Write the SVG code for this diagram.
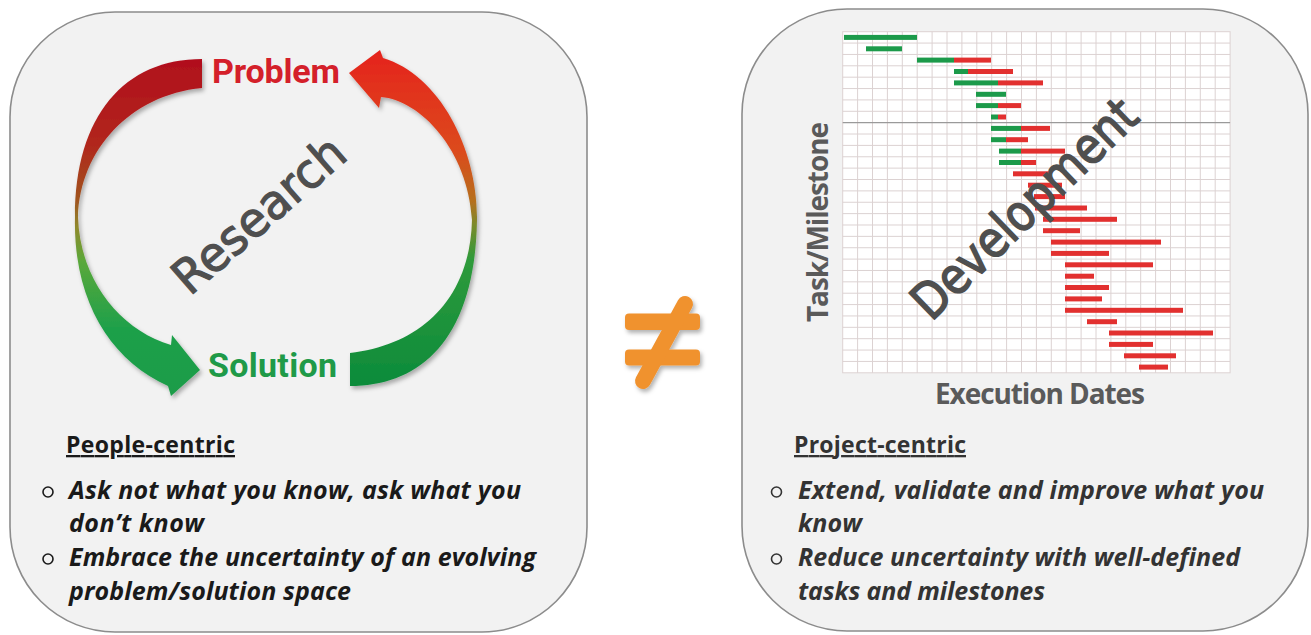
<svg xmlns="http://www.w3.org/2000/svg" width="1311" height="635" viewBox="0 0 1311 635">
<style>
.panel{fill:#f2f2f2;stroke:#8c8c8c;stroke-width:1.6}
.lbl{font-family:Roboto,"Liberation Sans",sans-serif;font-weight:700}
.big{font-family:"DejaVu Sans",sans-serif;font-weight:400;fill:#4f4f4f;stroke:#4f4f4f;stroke-width:1.2}
.axis{font-family:"Open Sans","Liberation Sans",sans-serif;font-weight:700;fill:#5a5a5a;font-size:28px}
.head{font-family:"Open Sans","Liberation Sans",sans-serif;font-weight:700;font-size:23px;text-decoration:underline}
.item{font-family:"Open Sans","Liberation Sans",sans-serif;font-weight:700;font-style:italic;font-size:25px}
.bul{fill:none;stroke-width:1.6}
.g{fill:#1c9a4a}
.r{fill:#e2302f}
.grid{fill:none;stroke:#dcd2d2;stroke-width:1}
</style>
<defs>
<linearGradient id="gl" gradientUnits="userSpaceOnUse" x1="0" y1="59" x2="0" y2="396">
<stop offset="0" stop-color="#b10f1f"/>
<stop offset="0.25" stop-color="#b1261b"/>
<stop offset="0.42" stop-color="#a0541f"/>
<stop offset="0.5" stop-color="#8f8a2c"/>
<stop offset="0.6" stop-color="#5aa83a"/>
<stop offset="0.8" stop-color="#1ea04a"/>
<stop offset="1" stop-color="#1a9c48"/>
</linearGradient>
<linearGradient id="gr" gradientUnits="userSpaceOnUse" x1="0" y1="50" x2="0" y2="387">
<stop offset="0" stop-color="#e5231d"/>
<stop offset="0.3" stop-color="#dc4a1f"/>
<stop offset="0.45" stop-color="#b5701f"/>
<stop offset="0.52" stop-color="#7a8a2a"/>
<stop offset="0.62" stop-color="#2f9a3a"/>
<stop offset="1" stop-color="#0b8b3b"/>
</linearGradient>
<filter id="sh" x="-20%" y="-20%" width="140%" height="140%">
<feDropShadow dx="2" dy="3" stdDeviation="2" flood-color="#000" flood-opacity="0.3"/>
</filter>
</defs>

<g id="research-panel">
<rect class="panel" x="10" y="12" width="577" height="620" rx="105" ry="105"/>
</g>

<g id="connectors">
<path id="arrow-problem-solution" filter="url(#sh)" fill="url(#gl)" d="M202,59 C125,59 75,115 75,217 C73,300 110,360 168,386 L171,396 L200,370 L172,335 L171,345 C120,330 80,280 78,217 C80,150 130,95 202,88 Z"/>
<path id="arrow-solution-problem" filter="url(#sh)" fill="url(#gr)" d="M350,386 C420,386 475,340 477,220 C478,150 440,75 383,58 L380,50 L349,73 L379,108 L381,97 C420,100 468,150 472,220 C470,300 420,345 350,353 Z"/>
</g>

<g id="problem">
<text class="lbl" x="212" y="83" font-size="34" fill="#d4202a" textLength="128">Problem</text>
</g>
<g id="solution">
<text class="lbl" x="208" y="377" font-size="34" fill="#1f9a48" textLength="129">Solution</text>
</g>
<g id="research">
<text class="big" transform="translate(258.5,214.5) rotate(-41)" x="0" y="17" font-size="48" text-anchor="middle" textLength="212" lengthAdjust="spacingAndGlyphs">Research</text>
</g>

<g id="people-centric">
<text class="head" x="66" y="453" fill="#1a1a1a" textLength="169">People-centric</text>
<circle class="bul" cx="48" cy="492" r="5" stroke="#1a1a1a"/>
<text class="item" x="69" y="499" fill="#1a1a1a" textLength="452">Ask not what you know, ask what you</text>
<text class="item" x="69" y="532" fill="#1a1a1a" textLength="135">don’t know</text>
<circle class="bul" cx="48" cy="559" r="5" stroke="#1a1a1a"/>
<text class="item" x="69" y="566" fill="#1a1a1a" textLength="467">Embrace the uncertainty of an evolving</text>
<text class="item" x="69" y="600" fill="#1a1a1a" textLength="282">problem/solution space</text>
</g>

<g id="not-equal" filter="url(#sh)" fill="#f0922f">
<rect x="625" y="313.5" width="75" height="16.5" rx="4"/>
<rect x="625" y="349.5" width="75" height="16" rx="4"/>
<line x1="685" y1="304" x2="643" y2="381" stroke="#f0922f" stroke-width="16" stroke-linecap="round"/>
</g>

<g id="development-panel">
<rect class="panel" x="742" y="9" width="566" height="622" rx="105" ry="105"/>
</g>

<g id="gantt">
<rect x="842.7" y="31.7" width="387.4" height="341.1" fill="#ffffff"/>
<path class="grid" d="M857.6 31.7V372.8M872.5 31.7V372.8M887.4 31.7V372.8M902.3 31.7V372.8M917.2 31.7V372.8M932.1 31.7V372.8M947 31.7V372.8M961.9 31.7V372.8M976.8 31.7V372.8M991.7 31.7V372.8M1006.6 31.7V372.8M1021.5 31.7V372.8M1036.4 31.7V372.8M1051.3 31.7V372.8M1066.2 31.7V372.8M1081.1 31.7V372.8M1096 31.7V372.8M1110.9 31.7V372.8M1125.8 31.7V372.8M1140.7 31.7V372.8M1155.6 31.7V372.8M1170.5 31.7V372.8M1185.4 31.7V372.8M1200.3 31.7V372.8M1215.2 31.7V372.8
M842.7 43.07H1230.1M842.7 54.44H1230.1M842.7 65.81H1230.1M842.7 77.18H1230.1M842.7 88.55H1230.1M842.7 99.92H1230.1M842.7 111.29H1230.1M842.7 134.03H1230.1M842.7 145.4H1230.1M842.7 156.77H1230.1M842.7 168.14H1230.1M842.7 179.51H1230.1M842.7 190.88H1230.1M842.7 202.25H1230.1M842.7 213.62H1230.1M842.7 224.99H1230.1M842.7 236.36H1230.1M842.7 247.73H1230.1M842.7 259.1H1230.1M842.7 270.47H1230.1M842.7 281.84H1230.1M842.7 293.21H1230.1M842.7 304.58H1230.1M842.7 315.95H1230.1M842.7 327.32H1230.1M842.7 338.69H1230.1M842.7 350.06H1230.1M842.7 361.43H1230.1"/>
<rect class="grid" x="842.7" y="31.7" width="387.4" height="341.1" stroke="#cfc6c6"/>
<line x1="842.7" y1="122.66" x2="1230.1" y2="122.66" stroke="#9a9a9a" stroke-width="1.2"/>
<rect class="g" x="844" y="34.9" width="73" height="5"/>
<rect class="g" x="866" y="46.3" width="36" height="5"/>
<rect class="g" x="917" y="57.6" width="37" height="5"/><rect class="r" x="954" y="57.6" width="37" height="5"/>
<rect class="g" x="954" y="69" width="14" height="5"/><rect class="r" x="968" y="69" width="45" height="5"/>
<rect class="g" x="954" y="80.4" width="44" height="5"/><rect class="r" x="998" y="80.4" width="45" height="5"/>
<rect class="g" x="976" y="91.8" width="30" height="5"/>
<rect class="g" x="976" y="103.1" width="22" height="5"/><rect class="r" x="998" y="103.1" width="23" height="5"/>
<rect class="g" x="991" y="114.5" width="7" height="5"/><rect class="r" x="998" y="114.5" width="8" height="5"/>
<rect class="g" x="991" y="125.9" width="30" height="5"/><rect class="r" x="1021" y="125.9" width="29" height="5"/>
<rect class="g" x="991" y="137.2" width="15" height="5"/><rect class="r" x="1006" y="137.2" width="22" height="5"/>
<rect class="g" x="999" y="148.6" width="22" height="5"/><rect class="r" x="1021" y="148.6" width="44" height="5"/>
<rect class="g" x="999" y="160" width="22" height="5"/><rect class="r" x="1021" y="160" width="15" height="5"/>
<rect class="r" x="1013" y="171.3" width="37" height="5"/>
<rect class="r" x="1028" y="182.7" width="34" height="5"/>
<rect class="r" x="1034" y="194.1" width="31" height="5"/>
<rect class="r" x="1035" y="205.5" width="52" height="5"/>
<rect class="r" x="1043" y="216.8" width="74" height="5"/>
<rect class="r" x="1043" y="228.2" width="37" height="5"/>
<rect class="r" x="1051" y="239.6" width="110" height="5"/>
<rect class="r" x="1051" y="250.9" width="58" height="5"/>
<rect class="r" x="1065" y="262.3" width="88" height="5"/>
<rect class="r" x="1065" y="273.7" width="29" height="5"/>
<rect class="r" x="1065" y="285" width="44" height="5"/>
<rect class="r" x="1065" y="296.4" width="37" height="5"/>
<rect class="r" x="1065" y="307.8" width="118" height="5"/>
<rect class="r" x="1087" y="319.2" width="30" height="5"/>
<rect class="r" x="1109" y="330.5" width="104" height="5"/>
<rect class="r" x="1109" y="341.9" width="44" height="5"/>
<rect class="r" x="1124" y="353.3" width="52" height="5"/>
<rect class="r" x="1139" y="364.6" width="29" height="5"/>
<text class="axis" transform="translate(828,222) rotate(-90)" x="0" y="0" text-anchor="middle" textLength="200">Task/Milestone</text>
<text class="axis" x="1040" y="404" text-anchor="middle" textLength="210">Execution Dates</text>
</g>
<g id="development">
<text class="big" transform="translate(1024.5,208.5) rotate(-44)" x="0" y="17" font-size="50" text-anchor="middle" textLength="292" lengthAdjust="spacingAndGlyphs" style="stroke-width:1.6">Development</text>
</g>

<g id="project-centric">
<text class="head" x="794" y="453" fill="#333333" textLength="172">Project-centric</text>
<circle class="bul" cx="776.5" cy="492" r="5" stroke="#333333"/>
<text class="item" x="798" y="499" fill="#333333" textLength="466">Extend, validate and improve what you</text>
<text class="item" x="798" y="532" fill="#333333" textLength="64">know</text>
<circle class="bul" cx="776.5" cy="559" r="5" stroke="#333333"/>
<text class="item" x="798" y="566" fill="#333333" textLength="442">Reduce uncertainty with well-defined</text>
<text class="item" x="798" y="600" fill="#333333" textLength="247">tasks and milestones</text>
</g>
</svg>
